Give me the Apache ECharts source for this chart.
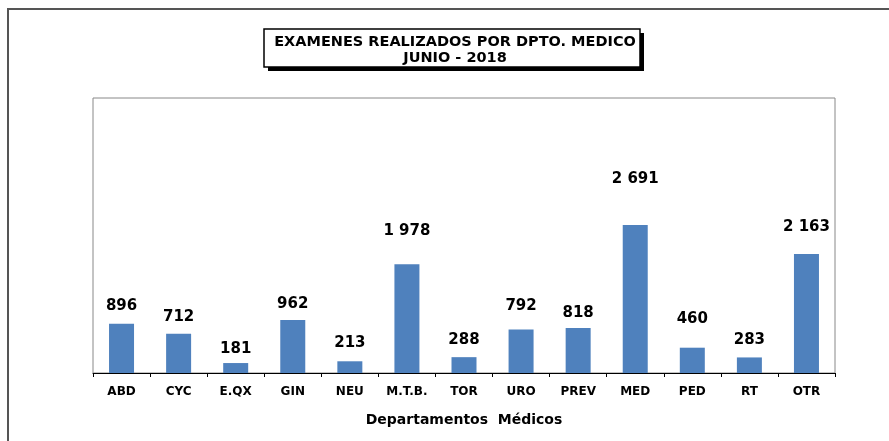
<!DOCTYPE html>
<html>
<head>
<meta charset="utf-8">
<script src="https://cdn.jsdelivr.net/npm/echarts@6/dist/echarts.min.js"></script>
<style>
  html, body { margin: 0; padding: 0; background: #fff; }
  #chart { width: 889px; height: 441px; }
</style>
</head>
<body>
<div id="chart"></div>
<script>
// departamentos y numero de examenes
var categorias = ['ABD', 'CYC', 'E.QX', 'GIN', 'NEU', 'M.T.B.', 'TOR', 'URO', 'PREV', 'MED', 'PED', 'RT', 'OTR'];
var examenes = [896, 712, 181, 962, 213, 1978, 288, 792, 818, 2691, 460, 283, 2163];
// separacion de cada etiqueta sobre su barra (como en el excel original)
var labelGap = [10, 9, 6, 8, 11, 26, 10, 16, 7, 38, 21, 10, 19];

var titulo = 'EXAMENES REALIZADOS POR DPTO. MEDICO';
var subtitulo = 'JUNIO - 2018';

function miles(v) {
    return String(v).replace(/\B(?=(\d{3})+(?!\d))/g, ' ');
}

var fuente = 'DejaVu Sans';

var seriesData = examenes.map(function (v, i) {
    return { value: v, label: { distance: labelGap[i] } };
});

var option = {
    animation: false,
    backgroundColor: '#fff',
    grid: {
        left: 93,
        right: 54,
        top: 98,
        bottom: 68,
        show: true,
        borderColor: '#888',
        borderWidth: 1,
        backgroundColor: 'transparent'
    },
    xAxis: {
        type: 'category',
        data: categorias,
        boundaryGap: true,
        name: 'Departamentos  Médicos',
        nameLocation: 'middle',
        nameGap: 40,
        nameTextStyle: {
            fontFamily: fuente,
            fontWeight: 'bold',
            fontSize: 14,
            color: '#000'
        },
        axisLine: { lineStyle: { color: '#000', width: 1 } },
        axisTick: { show: true, interval: 0, length: 4, lineStyle: { color: '#000' } },
        axisLabel: {
            interval: 0,
            margin: 13,
            fontFamily: fuente,
            fontWeight: 'bold',
            fontSize: 12,
            color: '#000'
        }
    },
    yAxis: {
        type: 'value',
        min: 0,
        max: 5000,
        interval: 1000,
        show: false,
        splitLine: { show: false }
    },
    series: [{
        type: 'bar',
        barWidth: 25,
        data: seriesData,
        itemStyle: { color: '#4f81bd' },
        label: {
            show: true,
            position: 'top',
            fontFamily: fuente,
            fontWeight: 'bold',
            fontSize: 15,
            color: '#000',
            formatter: function (p) { return miles(p.value); }
        }
    }],
    graphic: [
        {
            type: 'rect',
            shape: { x: 8, y: 9, width: 1000, height: 1000 },
            style: { fill: 'none', stroke: '#555', lineWidth: 2 },
            silent: true
        },
        {
            type: 'rect',
            shape: { x: 268, y: 33, width: 376, height: 38 },
            style: { fill: '#000' },
            silent: true
        },
        {
            type: 'rect',
            shape: { x: 264, y: 29, width: 376, height: 38 },
            style: { fill: '#fff', stroke: '#000', lineWidth: 1.5 },
            silent: true
        },
        {
            type: 'text',
            x: 455,
            y: 42,
            style: {
                text: titulo,
                fontFamily: fuente,
                fontWeight: 'bold',
                fontSize: 14.5,
                fill: '#000',
                textAlign: 'center',
                textVerticalAlign: 'middle'
            }
        },
        {
            type: 'text',
            x: 455,
            y: 58,
            style: {
                text: subtitulo,
                fontFamily: fuente,
                fontWeight: 'bold',
                fontSize: 14.5,
                fill: '#000',
                textAlign: 'center',
                textVerticalAlign: 'middle'
            }
        }
    ]
};

var chart = echarts.init(document.getElementById('chart'));
chart.setOption(option, true);
</script>
</body>
</html>
